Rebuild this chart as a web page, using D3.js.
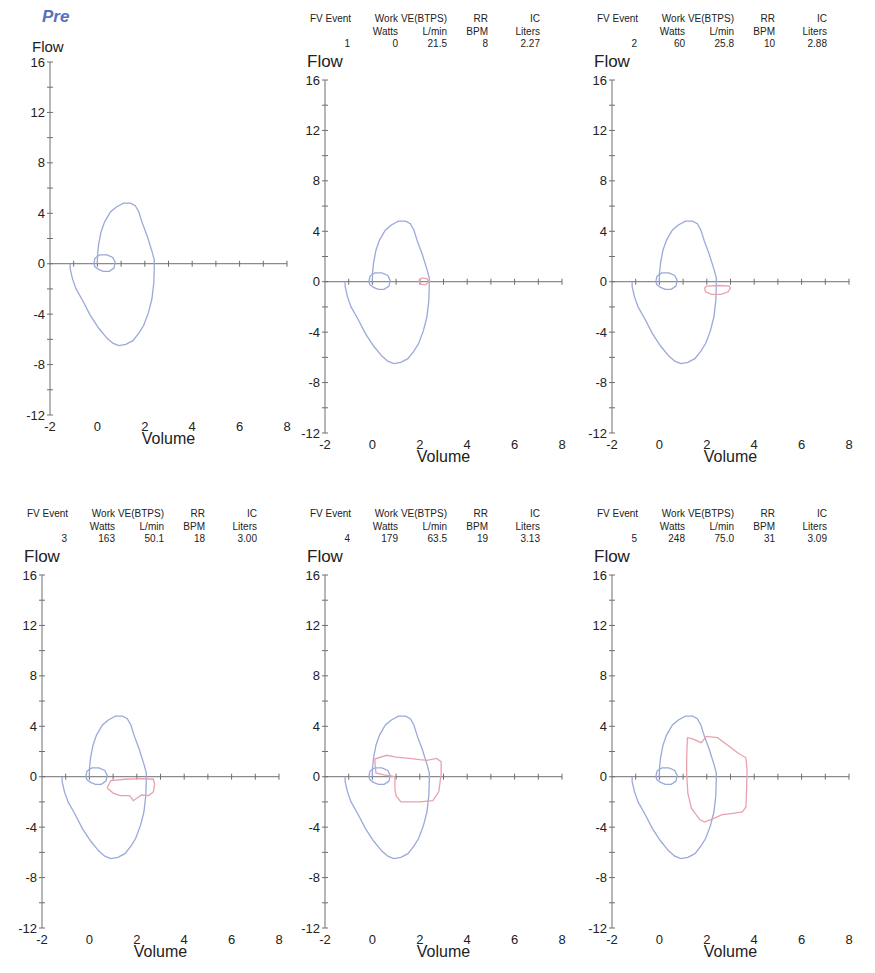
<!DOCTYPE html>
<html>
<head>
<meta charset="utf-8">
<script src="https://cdn.jsdelivr.net/npm/d3@7"></script>
<style>
  body { margin: 0; background: #fff; }
  text { font-family: "Liberation Sans", Arial, sans-serif; }
</style>
</head>
<body>
<div id="chart"></div>
<script>
// ---- data ----
const fvEvents = ["1", "2", "3", "4", "5"];
const workWatts = ["0", "60", "163", "179", "248"];
const veLmin = ["21.5", "25.8", "50.1", "63.5", "75.0"];
const rrBpm = ["8", "10", "18", "19", "31"];
const icLiters = ["2.27", "2.88", "3.00", "3.13", "3.09"];

const headerNames = ["FV Event", "Work", "VE(BTPS)", "RR", "IC"];
const headerUnits = ["", "Watts", "L/min", "BPM", "Liters"];

const volumeTicks = [-2, 0, 2, 4, 6, 8];
const flowTicks = [-12, -8, -4, 0, 4, 8, 12, 16];

// maximal flow-volume envelope [volume, flow]
const envelope = [
  [-1.15, 0], [-1.15, -0.4], [-1.05, -1.2], [-0.9, -2.0], [-0.6, -3.0], [-0.3, -4.1],
  [0.05, -5.1], [0.4, -5.9], [0.65, -6.3], [0.9, -6.5], [1.2, -6.4], [1.5, -6.1],
  [1.75, -5.5], [1.95, -4.9], [2.15, -3.9], [2.3, -2.8], [2.38, -1.5], [2.4, -0.3],
  [2.4, 0.3], [2.3, 1.0], [2.1, 2.2], [1.9, 3.2], [1.75, 4.1], [1.6, 4.6], [1.4, 4.8],
  [1.1, 4.8], [0.8, 4.5], [0.55, 4.1], [0.3, 3.3], [0.15, 2.5], [0.05, 1.5], [0.0, 0.6], [0.0, 0]
];

// resting tidal loop
const restLoop = [
  [-0.15, 0], [-0.1, 0.45], [0.1, 0.7], [0.4, 0.7], [0.65, 0.5], [0.75, 0.1], [0.7, -0.35],
  [0.5, -0.6], [0.25, -0.6], [0.05, -0.45], [-0.1, -0.25], [-0.15, 0]
];

// exercise tidal loops, one per FV event
const tidalLoops = [
  [[1.95, 0.1], [2.1, 0.3], [2.3, 0.25], [2.38, 0], [2.25, -0.25], [2.05, -0.2], [1.95, 0.1]],
  [[1.9, -0.5], [2.0, -0.35], [2.5, -0.3], [2.95, -0.35], [3.0, -0.5], [2.9, -0.8],
   [2.6, -1.0], [2.2, -1.0], [1.95, -0.8], [1.9, -0.5]],
  [[0.75, -0.9], [0.9, -0.3], [1.5, -0.2], [2.2, -0.15], [2.7, -0.2], [2.75, -0.6],
   [2.7, -1.2], [2.5, -1.5], [2.2, -1.45], [1.85, -1.9], [1.7, -1.5], [1.3, -1.5],
   [1.0, -1.3], [0.75, -0.9]],
  [[0.95, 0], [0.5, 0.15], [0.15, 0.3], [0.1, 1.4], [0.6, 1.7], [1.0, 1.55], [1.55, 1.45],
   [2.0, 1.35], [2.3, 1.3], [2.7, 1.45], [2.9, 1.2], [2.9, 0.2], [2.85, -0.5], [2.8, -1.2],
   [2.55, -1.9], [2.0, -2.0], [1.2, -2.0], [1.0, -1.5], [0.95, -1.0], [0.95, 0]],
  [[1.18, 3.1], [1.4, 3.0], [1.77, 2.7], [1.98, 3.2], [2.45, 3.1], [2.95, 2.4], [3.3, 1.9],
   [3.65, 1.5], [3.7, 0.5], [3.68, -1.0], [3.65, -2.4], [3.5, -2.8], [3.1, -2.9], [2.65, -3.0],
   [2.3, -3.3], [1.9, -3.6], [1.7, -3.4], [1.35, -2.5], [1.2, -1.3], [1.15, 0.2], [1.15, 1.4],
   [1.18, 3.1]]
];

// ---- layout ----
const width = 875, height = 973;
const plotW = 237, plotH = 353;
const panels = [
  { left: 50, top: 62, ev: -1, flowDy: -10, flowSize: 15 },
  { left: 325, top: 80, ev: 0, flowDy: -13, flowSize: 17 },
  { left: 612, top: 80, ev: 1, flowDy: -13, flowSize: 17 },
  { left: 42, top: 575, ev: 2, flowDy: -13, flowSize: 17 },
  { left: 325, top: 575, ev: 3, flowDy: -13, flowSize: 17 },
  { left: 612, top: 575, ev: 4, flowDy: -13, flowSize: 17 }
];
const colOffsets = [25, 73, 122, 163, 215];

const axisColor = "#6f6f6f", textColor = "#222";
const blue = "#9aa9da", red = "#e8a2ae";

let svg = d3.select("#chart").append("svg").attr("width", width).attr("height", height);

panels.forEach(function(p) {
  let x = d3.scaleLinear().domain([-2, 8]).range([p.left, p.left + plotW]);
  let y = d3.scaleLinear().domain([-12, 16]).range([p.top + plotH, p.top]);
  let g = svg.append("g");

  let line = d3.line()
    .x(function(d) { return x(d[0]); })
    .y(function(d) { return y(d[1]); });

  // y axis
  g.append("line")
    .attr("x1", x(-2)).attr("x2", x(-2))
    .attr("y1", y(-12)).attr("y2", y(16))
    .attr("stroke", axisColor);
  g.selectAll(".yt").data(d3.range(-12, 17, 2)).enter().append("line")
    .attr("x1", x(-2) - 3).attr("x2", x(-2) + 3)
    .attr("y1", function(d) { return y(d); }).attr("y2", function(d) { return y(d); })
    .attr("stroke", axisColor);
  g.selectAll(".yl").data(flowTicks).enter().append("text")
    .attr("x", x(-2) - 5).attr("y", function(d) { return y(d) + 4.5; })
    .attr("text-anchor", "end").attr("font-size", 13).attr("fill", textColor)
    .text(function(d) { return d; });

  // x axis through flow 0
  g.append("line")
    .attr("x1", x(-2)).attr("x2", x(8))
    .attr("y1", y(0)).attr("y2", y(0))
    .attr("stroke", axisColor);
  g.selectAll(".xt").data(d3.range(-1, 9, 1)).enter().append("line")
    .attr("x1", function(d) { return x(d); }).attr("x2", function(d) { return x(d); })
    .attr("y1", y(0) - 3).attr("y2", y(0) + 3)
    .attr("stroke", axisColor);
  g.selectAll(".xl").data(volumeTicks).enter().append("text")
    .attr("x", function(d) { return x(d); }).attr("y", y(-12) + 16)
    .attr("text-anchor", "middle").attr("font-size", 13).attr("fill", textColor)
    .text(function(d) { return d; });

  g.append("text")
    .attr("x", x(3)).attr("y", y(-12) + 29)
    .attr("text-anchor", "middle").attr("font-size", 16).attr("fill", textColor)
    .text("Volume");
  g.append("text")
    .attr("x", x(-2) - 18).attr("y", y(16) + p.flowDy)
    .attr("font-size", p.flowSize).attr("fill", textColor)
    .text("Flow");

  // loops
  g.append("path").attr("d", line(envelope))
    .attr("fill", "none").attr("stroke", blue).attr("stroke-width", 1.3);
  g.append("path").attr("d", line(restLoop))
    .attr("fill", "none").attr("stroke", blue).attr("stroke-width", 1.3);

  if (p.ev < 0) {
    g.append("text")
      .attr("x", x(-2) - 8).attr("y", 22)
      .attr("font-size", 17).attr("font-weight", "bold").attr("font-style", "italic")
      .attr("fill", "#5b6fc0")
      .text("Pre");
    return;
  }

  g.append("path").attr("d", line(tidalLoops[p.ev]))
    .attr("fill", "none").attr("stroke", red).attr("stroke-width", 1.3);

  // header table
  let rows = [
    headerNames,
    headerUnits,
    [fvEvents[p.ev], workWatts[p.ev], veLmin[p.ev], rrBpm[p.ev], icLiters[p.ev]]
  ];
  rows.forEach(function(row, ri) {
    let ty = y(16) - 58 + ri * 12.5;
    row.forEach(function(t, ci) {
      let first = (ri === 0 && ci === 0);
      g.append("text")
        .attr("x", first ? x(-2) - 15 : x(-2) + colOffsets[ci])
        .attr("y", ty)
        .attr("text-anchor", first ? "start" : "end")
        .attr("font-size", 10).attr("fill", "#222")
        .text(t);
    });
  });
});
</script>
</body>
</html>
